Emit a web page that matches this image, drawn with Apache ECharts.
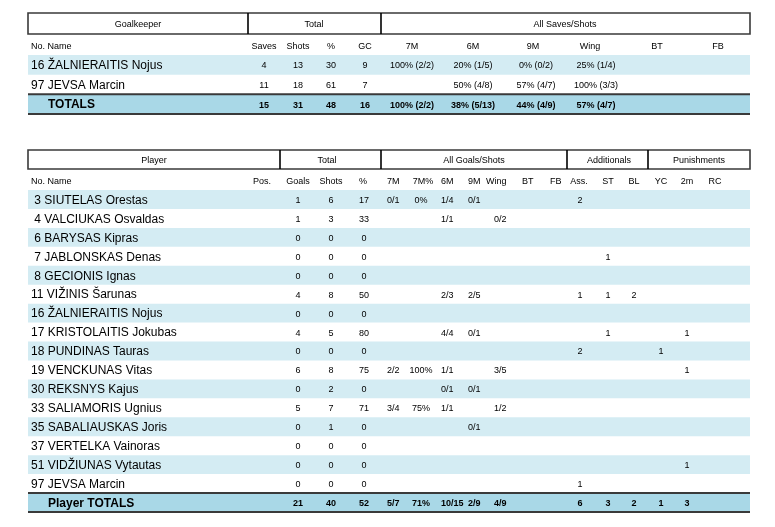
<!DOCTYPE html>
<html>
<head>
<meta charset="utf-8">
<script src="https://cdn.jsdelivr.net/npm/echarts@6/dist/echarts.min.js"></script>
<style>
  html, body { margin: 0; padding: 0; background: #fff; }
  #chart { width: 775px; height: 527px; }
</style>
</head>
<body>
<div id="chart"></div>
<script>
// 守门员数据
const gkNames = ['16 ŽALNIERAITIS Nojus', '97 JEVSA Marcin'];
const gkSaves = [4, 11];
const gkShots = [13, 18];
const gkPct = [30, 61];
const gkGC = [9, 7];
const gk7M = ['100% (2/2)', ''];
const gk6M = ['20% (1/5)', '50% (4/8)'];
const gk9M = ['0% (0/2)', '57% (4/7)'];
const gkWing = ['25% (1/4)', '100% (3/3)'];
const gkBT = ['', ''];
const gkFB = ['', ''];
const gkTotals = [15, 31, 48, 16, '100% (2/2)', '38% (5/13)', '44% (4/9)', '57% (4/7)', '', ''];
const gkHeaders = ['Saves', 'Shots', '%', 'GC', '7M', '6M', '9M', 'Wing', 'BT', 'FB'];

// 球员数据
const plNo = [3, 4, 6, 7, 8, 11, 16, 17, 18, 19, 30, 33, 35, 37, 51, 97];
const plName = ['SIUTELAS Orestas', 'VALCIUKAS Osvaldas', 'BARYSAS Kipras', 'JABLONSKAS Denas',
  'GECIONIS Ignas', 'VIŽINIS Šarunas', 'ŽALNIERAITIS Nojus', 'KRISTOLAITIS Jokubas',
  'PUNDINAS Tauras', 'VENCKUNAS Vitas', 'REKSNYS Kajus', 'SALIAMORIS Ugnius',
  'SABALIAUSKAS Joris', 'VERTELKA Vainoras', 'VIDŽIUNAS Vytautas', 'JEVSA Marcin'];
const plGoals = [1, 1, 0, 0, 0, 4, 0, 4, 0, 6, 0, 5, 0, 0, 0, 0];
const plShots = [6, 3, 0, 0, 0, 8, 0, 5, 0, 8, 2, 7, 1, 0, 0, 0];
const plPct = [17, 33, 0, 0, 0, 50, 0, 80, 0, 75, 0, 71, 0, 0, 0, 0];
const pl7M = ['0/1', '', '', '', '', '', '', '', '', '2/2', '', '3/4', '', '', '', ''];
const pl7MPct = ['0%', '', '', '', '', '', '', '', '', '100%', '', '75%', '', '', '', ''];
const pl6M = ['1/4', '1/1', '', '', '', '2/3', '', '4/4', '', '1/1', '0/1', '1/1', '', '', '', ''];
const pl9M = ['0/1', '', '', '', '', '2/5', '', '0/1', '', '', '0/1', '', '0/1', '', '', ''];
const plWing = ['', '0/2', '', '', '', '', '', '', '', '3/5', '', '1/2', '', '', '', ''];
const plAss = [2, '', '', '', '', 1, '', '', 2, '', '', '', '', '', '', 1];
const plST = ['', '', '', 1, '', 1, '', 1, '', '', '', '', '', '', '', ''];
const plBL = ['', '', '', '', '', 2, '', '', '', '', '', '', '', '', '', ''];
const plYC = ['', '', '', '', '', '', '', '', 1, '', '', '', '', '', '', ''];
const pl2m = ['', '', '', '', '', '', '', 1, '', 1, '', '', '', '', 1, ''];
const plTotals = ['', 21, 40, 52, '5/7', '71%', '10/15', '2/9', '4/9', '', '', 6, 3, 2, 1, 3, ''];
const plHeaders = ['Pos.', 'Goals', 'Shots', '%', '7M', '7M%', '6M', '9M', 'Wing', 'BT', 'FB',
  'Ass.', 'ST', 'BL', 'YC', '2m', 'RC'];

// 版面布局
const FONT = '"Liberation Sans", Arial, sans-serif';
const STRIPE = '#d4ecf3';
const TOTAL_BG = '#a9d8e7';
const LINE = '#3a3a3a';

const gkCols = [
  { hx: 264, x: 264 }, { hx: 298, x: 298 }, { hx: 331, x: 331 }, { hx: 365, x: 365 },
  { hx: 412, x: 412 }, { hx: 473, x: 473 }, { hx: 533, x: 536 }, { hx: 590, x: 596 },
  { hx: 657, x: 657 }, { hx: 718, x: 718 }
];
const plCols = [
  { hx: 262, x: 262 }, { hx: 298, x: 298 }, { hx: 331, x: 331 }, { hx: 363, x: 364 },
  { hx: 387, x: 387, ha: 'left', a: 'left' }, { hx: 423, x: 421 },
  { hx: 441, x: 441, ha: 'left', a: 'left' }, { hx: 468, x: 468, ha: 'left', a: 'left' },
  { hx: 486, x: 494, ha: 'left', a: 'left' }, { hx: 522, x: 522, ha: 'left', a: 'left' },
  { hx: 550, x: 550, ha: 'left', a: 'left' },
  { hx: 579, x: 580 }, { hx: 608, x: 608 }, { hx: 634, x: 634 },
  { hx: 661, x: 661 }, { hx: 687, x: 687 }, { hx: 715, x: 715 }
];

function font(size, bold) {
  return (bold ? 'bold ' : '') + size + 'px ' + FONT;
}

function txt(text, x, y, size, align, bold) {
  return {
    type: 'text',
    silent: true,
    style: {
      text: String(text), x: x, y: y, fill: '#000',
      font: font(size, bold), textAlign: align || 'center', textVerticalAlign: 'middle'
    }
  };
}

function hline(x1, x2, y, width) {
  return { type: 'line', silent: true, shape: { x1: x1, y1: y, x2: x2, y2: y },
    style: { stroke: LINE, lineWidth: width || 2 } };
}

// 表头：标题框 + 分隔线 + 列名
function headerBox(top, bottom, dividers, titles, subY, heads, cols) {
  const els = [];
  els.push({ type: 'rect', silent: true, shape: { x: 28, y: top, width: 722, height: bottom - top },
    style: { fill: 'none', stroke: LINE, lineWidth: 1.6 } });
  dividers.forEach(d => {
    els.push({ type: 'line', silent: true, shape: { x1: d, y1: top, x2: d, y2: bottom },
      style: { stroke: '#000', lineWidth: 1.6 } });
  });
  titles.forEach(t => els.push(txt(t[0], t[1], (top + bottom) / 2 + 1, 9)));
  els.push(txt('No. Name', 31, subY, 9, 'left'));
  heads.forEach((h, k) => els.push(txt(h, cols[k].hx, subY, 9, cols[k].ha || 'center')));
  return els;
}

// 行数据
const gkRows = gkNames.map((n, i) => ({
  label: n,
  cells: [gkSaves[i], gkShots[i], gkPct[i], gkGC[i], gk7M[i], gk6M[i], gk9M[i], gkWing[i], gkBT[i], gkFB[i]]
}));
gkRows.push({ label: 'TOTALS', cells: gkTotals, total: true });

const plRows = plNo.map((no, i) => ({
  label: (no < 10 ? ' ' : '') + no + ' ' + plName[i],
  cells: ['', plGoals[i], plShots[i], plPct[i], pl7M[i], pl7MPct[i], pl6M[i], pl9M[i], plWing[i], '', '',
    plAss[i], plST[i], plBL[i], plYC[i], pl2m[i], '']
}));
plRows.push({ label: 'Player TOTALS', cells: plTotals, total: true });

function makeRender(rows, cols) {
  return function (params, api) {
    const i = api.value(1);
    const row = rows[i];
    const c = api.coord([0, i]);
    const s = api.size([1, 1]);
    const x0 = c[0], w = s[0], h = s[1];
    const top = c[1] - h / 2, cy = c[1] + 1;
    const children = [];
    if (row.total) {
      children.push({ type: 'rect', shape: { x: x0, y: top, width: w, height: h }, style: { fill: TOTAL_BG } });
      children.push(hline(x0, x0 + w, top, 2));
      children.push(hline(x0, x0 + w, top + h, 2));
      children.push(txt(row.label, 48, cy, 12, 'left', true));
    } else {
      if (i % 2 === 0) {
        children.push({ type: 'rect', shape: { x: x0, y: top, width: w, height: h }, style: { fill: STRIPE } });
      }
      children.push(txt(row.label, 31, cy, 12, 'left'));
    }
    row.cells.forEach((v, k) => {
      if (v === '') return;
      children.push(txt(v, cols[k].x, cy, 9, cols[k].a || 'center', row.total));
    });
    return { type: 'group', children: children };
  };
}

const chart = echarts.init(document.getElementById('chart'));

const option = {
  animation: false,
  backgroundColor: '#fff',
  grid: [
    { left: 28, right: 25, top: 55, height: 59 },
    { left: 28, right: 25, top: 190, height: 322 }
  ],
  xAxis: [
    { type: 'value', min: 0, max: 1, show: false, gridIndex: 0 },
    { type: 'value', min: 0, max: 1, show: false, gridIndex: 1 }
  ],
  yAxis: [
    { type: 'category', inverse: true, show: false, gridIndex: 0, data: gkRows.map(r => r.label) },
    { type: 'category', inverse: true, show: false, gridIndex: 1, data: plRows.map(r => r.label) }
  ],
  series: [
    {
      type: 'custom', xAxisIndex: 0, yAxisIndex: 0, silent: true,
      renderItem: makeRender(gkRows, gkCols),
      data: gkRows.map((r, i) => [0, i])
    },
    {
      type: 'custom', xAxisIndex: 1, yAxisIndex: 1, silent: true,
      renderItem: makeRender(plRows, plCols),
      data: plRows.map((r, i) => [0, i])
    }
  ],
  graphic: {
    elements: [].concat(
      headerBox(13, 34, [248, 381],
        [['Goalkeeper', 138], ['Total', 314], ['All Saves/Shots', 565]],
        47, gkHeaders, gkCols),
      headerBox(150, 169, [280, 381, 567, 648],
        [['Player', 154], ['Total', 327], ['All Goals/Shots', 474], ['Additionals', 609], ['Punishments', 699]],
        182, plHeaders, plCols)
    )
  }
};

chart.setOption(option);

window.addEventListener('resize', function () {
  chart.resize();
});
</script>
</body>
</html>
